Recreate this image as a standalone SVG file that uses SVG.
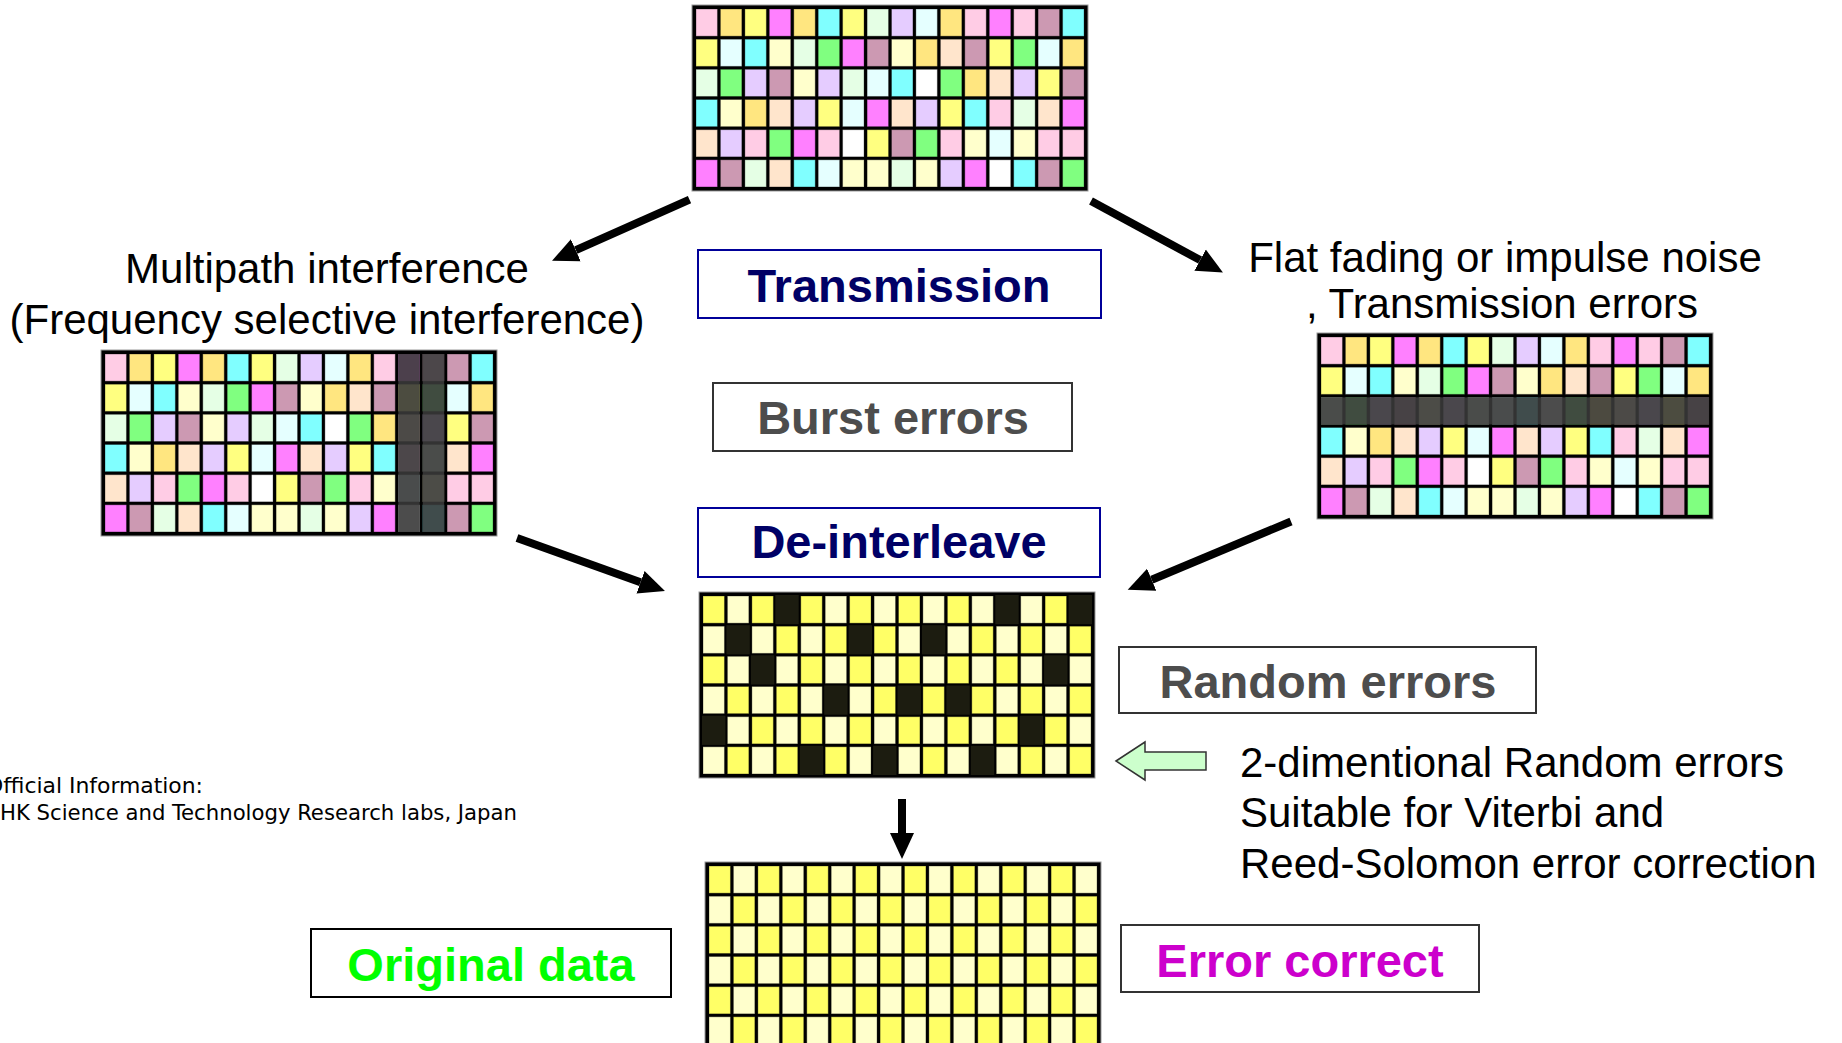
<svg xmlns="http://www.w3.org/2000/svg" xmlns:xlink="http://www.w3.org/1999/xlink" width="1842" height="1043" viewBox="0 0 1842 1043">
<style>
  text{font-family:"Liberation Sans",Arial,sans-serif}
  .lbl{font-size:42px;fill:#000;text-anchor:middle}
  .lbl-l{font-size:42px;fill:#000}
  .bt{font-size:47px;font-weight:bold;text-anchor:middle}
  .navy{fill:#000066}
  .grey{fill:#4d4d4d}
  .lime{fill:#00ff00}
  .purple{fill:#cc00cc}
  .box{fill:#fff;stroke-width:2}
  .box-blue{stroke:#000099}
  .box-dark{stroke:#333}
  .box-black{stroke:#000}
  .foot{font-family:"DejaVu Sans Condensed","DejaVu Sans",sans-serif;font-size:22px;fill:#000}
  .frame{fill:#000;stroke:#999;stroke-width:1}
  .cl rect{width:21.44px;height:27.17px;stroke:#000;stroke-opacity:.3;stroke-width:1}
  .pk{fill:#ffcce5}.gd{fill:#ffe680}.ye{fill:#ffff80}.mg{fill:#ff80ff}.cy{fill:#80ffff}
  .lg{fill:#e5ffe5}.lv{fill:#e5ccff}.lc{fill:#e5ffff}.mv{fill:#cc99b2}.ly{fill:#ffffcc}
  .gr{fill:#80ff80}.pe{fill:#ffe5cc}.wh{fill:#ffffff}.yy{fill:#ffff66}
  .dk{fill:#383838;fill-opacity:.9}
  .err{fill:#1c1c10;width:23.4px;height:29.2px}
  .arrow{stroke:#000;stroke-width:8;fill:none;marker-end:url(#ah)}
  .hollow{fill:#ccffcc;stroke:#333;stroke-width:1.5}
</style>
<defs>
  <marker id="ah" markerUnits="userSpaceOnUse" markerWidth="27" markerHeight="26" viewBox="0 -13 27 26" refX="0" refY="0" orient="auto">
    <path d="M0,-12 L26,0 L0,12 z" fill="#000"/>
  </marker>
  <!-- 16x6 block of coloured data symbols -->
  <g id="palette">
    <rect class="frame" width="396" height="186"/>
    <g class="cl">
      <g transform="translate(0,4)">
        <rect x="4" class="pk"/><rect x="28.4" class="gd"/><rect x="52.9" class="ye"/><rect x="77.3" class="mg"/><rect x="101.8" class="gd"/><rect x="126.2" class="cy"/><rect x="150.6" class="ye"/><rect x="175.1" class="lg"/><rect x="199.5" class="lv"/><rect x="223.9" class="lc"/><rect x="248.4" class="gd"/><rect x="272.8" class="pk"/><rect x="297.3" class="mg"/><rect x="321.7" class="pk"/><rect x="346.1" class="mv"/><rect x="370.6" class="cy"/>
      </g>
      <g transform="translate(0,34.2)">
        <rect x="4" class="ye"/><rect x="28.4" class="lc"/><rect x="52.9" class="cy"/><rect x="77.3" class="ly"/><rect x="101.8" class="lg"/><rect x="126.2" class="gr"/><rect x="150.6" class="mg"/><rect x="175.1" class="mv"/><rect x="199.5" class="ly"/><rect x="223.9" class="gd"/><rect x="248.4" class="pe"/><rect x="272.8" class="mv"/><rect x="297.3" class="ye"/><rect x="321.7" class="gr"/><rect x="346.1" class="lc"/><rect x="370.6" class="gd"/>
      </g>
      <g transform="translate(0,64.3)">
        <rect x="4" class="lg"/><rect x="28.4" class="gr"/><rect x="52.9" class="lv"/><rect x="77.3" class="mv"/><rect x="101.8" class="ly"/><rect x="126.2" class="lv"/><rect x="150.6" class="lg"/><rect x="175.1" class="lc"/><rect x="199.5" class="cy"/><rect x="223.9" class="wh"/><rect x="248.4" class="gr"/><rect x="272.8" class="gd"/><rect x="297.3" class="pe"/><rect x="321.7" class="lv"/><rect x="346.1" class="ye"/><rect x="370.6" class="mv"/>
      </g>
      <g transform="translate(0,94.5)">
        <rect x="4" class="cy"/><rect x="28.4" class="ly"/><rect x="52.9" class="gd"/><rect x="77.3" class="pe"/><rect x="101.8" class="lv"/><rect x="126.2" class="ye"/><rect x="150.6" class="lc"/><rect x="175.1" class="mg"/><rect x="199.5" class="pe"/><rect x="223.9" class="lv"/><rect x="248.4" class="ye"/><rect x="272.8" class="cy"/><rect x="297.3" class="pk"/><rect x="321.7" class="lg"/><rect x="346.1" class="pe"/><rect x="370.6" class="mg"/>
      </g>
      <g transform="translate(0,124.7)">
        <rect x="4" class="pe"/><rect x="28.4" class="lv"/><rect x="52.9" class="pk"/><rect x="77.3" class="gr"/><rect x="101.8" class="mg"/><rect x="126.2" class="pk"/><rect x="150.6" class="wh"/><rect x="175.1" class="ye"/><rect x="199.5" class="mv"/><rect x="223.9" class="gr"/><rect x="248.4" class="pk"/><rect x="272.8" class="ly"/><rect x="297.3" class="lc"/><rect x="321.7" class="ly"/><rect x="346.1" class="pk"/><rect x="370.6" class="pk"/>
      </g>
      <g transform="translate(0,154.8)">
        <rect x="4" class="mg"/><rect x="28.4" class="mv"/><rect x="52.9" class="lg"/><rect x="77.3" class="pe"/><rect x="101.8" class="cy"/><rect x="126.2" class="lc"/><rect x="150.6" class="ly"/><rect x="175.1" class="ly"/><rect x="199.5" class="lg"/><rect x="223.9" class="ly"/><rect x="248.4" class="lv"/><rect x="272.8" class="mg"/><rect x="297.3" class="wh"/><rect x="321.7" class="cy"/><rect x="346.1" class="mv"/><rect x="370.6" class="gr"/>
      </g>
    </g>
  </g>
  <!-- 16x6 yellow checkerboard of data symbols -->
  <g id="checker">
    <rect class="frame" width="396" height="186"/>
    <g class="cl">
      <g id="rowA" transform="translate(0,4)">
        <rect x="4" class="yy"/><rect x="28.4" class="ly"/><rect x="52.9" class="yy"/><rect x="77.3" class="ly"/><rect x="101.8" class="yy"/><rect x="126.2" class="ly"/><rect x="150.6" class="yy"/><rect x="175.1" class="ly"/><rect x="199.5" class="yy"/><rect x="223.9" class="ly"/><rect x="248.4" class="yy"/><rect x="272.8" class="ly"/><rect x="297.3" class="yy"/><rect x="321.7" class="ly"/><rect x="346.1" class="yy"/><rect x="370.6" class="ly"/>
      </g>
      <g id="rowB" transform="translate(0,34.2)">
        <rect x="4" class="ly"/><rect x="28.4" class="yy"/><rect x="52.9" class="ly"/><rect x="77.3" class="yy"/><rect x="101.8" class="ly"/><rect x="126.2" class="yy"/><rect x="150.6" class="ly"/><rect x="175.1" class="yy"/><rect x="199.5" class="ly"/><rect x="223.9" class="yy"/><rect x="248.4" class="ly"/><rect x="272.8" class="yy"/><rect x="297.3" class="ly"/><rect x="321.7" class="yy"/><rect x="346.1" class="ly"/><rect x="370.6" class="yy"/>
      </g>
      <use xlink:href="#rowA" y="60.3"/>
      <use xlink:href="#rowB" y="60.3"/>
      <use xlink:href="#rowA" y="120.7"/>
      <use xlink:href="#rowB" y="120.6"/>
    </g>
  </g>
</defs>

<rect width="1842" height="1043" fill="#fff"/>

<!-- transmitted block -->
<g id="grid-sent">
  <use xlink:href="#palette" x="692" y="5"/>
</g>

<!-- block hit by frequency selective interference: two dark columns -->
<g id="grid-multipath" transform="translate(101,350)">
  <use xlink:href="#palette"/>
  <rect class="dk" x="297.3" y="4" width="21.44" height="178"/>
  <rect class="dk" x="321.7" y="4" width="21.44" height="178"/>
</g>

<!-- block hit by flat fading: one dark row -->
<g id="grid-fading" transform="translate(1317,333)">
  <use xlink:href="#palette"/>
  <rect class="dk" x="4" y="64.3" width="388" height="27.17"/>
</g>

<!-- de-interleaved block with scattered errors -->
<g id="grid-random" transform="translate(699,592)">
  <use xlink:href="#checker"/>
  <rect class="err" x="76.3" y="3"/><rect class="err" x="296.3" y="3"/><rect class="err" x="369.6" y="3"/>
  <rect class="err" x="27.4" y="33.2"/><rect class="err" x="149.6" y="33.2"/><rect class="err" x="222.9" y="33.2"/>
  <rect class="err" x="51.9" y="63.3"/><rect class="err" x="345.1" y="63.3"/>
  <rect class="err" x="125.2" y="93.5"/><rect class="err" x="198.5" y="93.5"/><rect class="err" x="247.4" y="93.5"/>
  <rect class="err" x="3" y="123.7"/><rect class="err" x="320.7" y="123.7"/>
  <rect class="err" x="100.8" y="153.8"/><rect class="err" x="174.1" y="153.8"/><rect class="err" x="271.8" y="153.8"/>
</g>

<!-- corrected block -->
<g id="grid-corrected">
  <use xlink:href="#checker" x="705" y="862"/>
</g>

<g id="label-multipath">
  <text class="lbl" x="327" y="283">Multipath interference</text>
  <text class="lbl" x="327" y="334">(Frequency selective interference)</text>
</g>

<g id="label-fading">
  <text class="lbl" x="1505" y="272">Flat fading or impulse noise</text>
  <text class="lbl" x="1502" y="318">, Transmission errors</text>
</g>

<g id="box-transmission">
  <rect class="box box-blue" x="698" y="250" width="403" height="68"/>
  <text class="bt navy" x="899" y="302">Transmission</text>
</g>

<g id="box-burst">
  <rect class="box box-dark" x="713" y="383" width="359" height="68"/>
  <text class="bt grey" x="893" y="434">Burst errors</text>
</g>

<g id="box-deinterleave">
  <rect class="box box-blue" x="698" y="508" width="402" height="69"/>
  <text class="bt navy" x="899" y="558">De-interleave</text>
</g>

<g id="box-random">
  <rect class="box box-dark" x="1119" y="647" width="417" height="66"/>
  <text class="bt grey" x="1328" y="698">Random errors</text>
</g>

<g id="label-random">
  <text class="lbl-l" x="1240" y="777">2-dimentional Random errors</text>
  <text class="lbl-l" x="1240" y="827">Suitable for Viterbi and</text>
  <text class="lbl-l" x="1240" y="878">Reed-Solomon error correction</text>
</g>

<g id="box-original">
  <rect class="box box-black" x="311" y="929" width="360" height="68"/>
  <text class="bt lime" x="491" y="981">Original data</text>
</g>

<g id="box-correct">
  <rect class="box box-dark" x="1121" y="925" width="358" height="67"/>
  <text class="bt purple" x="1300" y="977">Error correct</text>
</g>

<g id="label-source">
  <text class="foot" x="-14" y="793" textLength="217" lengthAdjust="spacingAndGlyphs">Official Information:</text>
  <text class="foot" x="0" y="820" textLength="517" lengthAdjust="spacingAndGlyphs">HK Science and Technology Research labs, Japan</text>
</g>

<g id="connectors">
  <path class="arrow" d="M689.5,199.7 L575.8,250.2"/>
  <path class="arrow" d="M1091,201 L1200.1,260.1"/>
  <path class="arrow" d="M517,538 L640.5,582.2"/>
  <path class="arrow" d="M1291,521.5 L1151.7,579.7"/>
  <path class="arrow" d="M902,799 L902,833"/>
  <polygon class="hollow" points="1116,761 1145,742 1145,752 1206,752 1206,770 1145,770 1145,780"/>
</g>
</svg>
